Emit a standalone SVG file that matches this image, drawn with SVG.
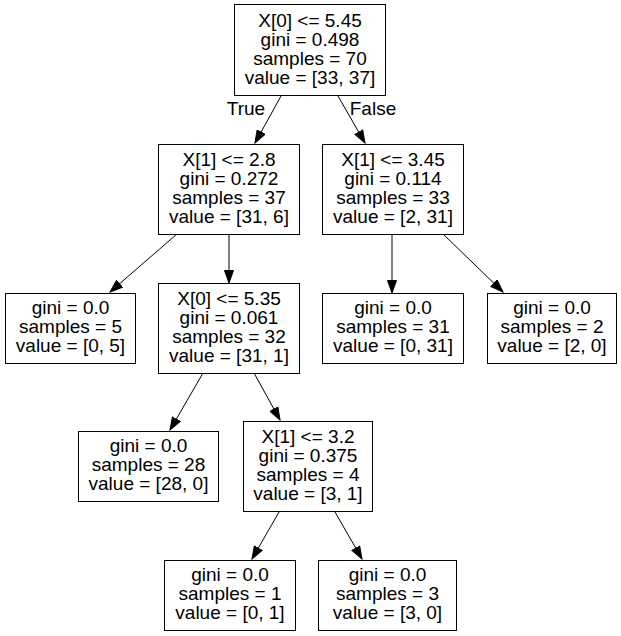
<svg xmlns="http://www.w3.org/2000/svg" width="621" height="636" viewBox="0 0 621 636">
<defs>
<marker id="ah" markerWidth="14" markerHeight="10" refX="13" refY="5" orient="auto" markerUnits="userSpaceOnUse">
<path d="M0.5,0.5 L13,5 L0.5,9.5 Z" fill="#000" stroke="#000" stroke-width="1"/>
</marker>
</defs>
<style>
rect{fill:#fff;stroke:#000;stroke-width:1}
text{font-family:"Liberation Sans",Arial,sans-serif;font-size:19px;fill:#000;text-anchor:middle}
.e{stroke:#000;stroke-width:1;fill:none;marker-end:url(#ah)}
</style>
<rect x="0" y="0" width="621" height="636" style="stroke:none"/>
<g id="edges">
<line class="e" x1="281" y1="96" x2="255" y2="143"/>
<line class="e" x1="338" y1="96" x2="365" y2="143"/>
<text x="246" y="115">True</text>
<text x="373" y="115">False</text>
<line class="e" x1="177" y1="234" x2="110" y2="292"/>
<line class="e" x1="229" y1="234" x2="229" y2="283"/>
<line class="e" x1="392" y1="234" x2="392" y2="293"/>
<line class="e" x1="443" y1="234" x2="503" y2="292"/>
<line class="e" x1="203" y1="373" x2="170" y2="430"/>
<line class="e" x1="254" y1="373" x2="280" y2="420"/>
<line class="e" x1="279" y1="512" x2="252" y2="559"/>
<line class="e" x1="335" y1="512" x2="362" y2="559"/>
</g>
<g id="n0">
<rect x="234.5" y="4.5" width="151" height="91"/>
<text x="310" y="27">X[0] &lt;= 5.45</text>
<text x="310" y="46">gini = 0.498</text>
<text x="310" y="65">samples = 70</text>
<text x="310" y="84">value = [33, 37]</text>
</g>
<g id="n1">
<rect x="158.5" y="144.5" width="141" height="90"/>
<text x="229" y="166">X[1] &lt;= 2.8</text>
<text x="229" y="185">gini = 0.272</text>
<text x="229" y="204">samples = 37</text>
<text x="229" y="223">value = [31, 6]</text>
</g>
<g id="n2">
<rect x="322.5" y="144.5" width="141" height="90"/>
<text x="393" y="166">X[1] &lt;= 3.45</text>
<text x="393" y="185">gini = 0.114</text>
<text x="393" y="204">samples = 33</text>
<text x="393" y="223">value = [2, 31]</text>
</g>
<g id="n3">
<rect x="5.5" y="293.5" width="130" height="70"/>
<text x="70.5" y="314">gini = 0.0</text>
<text x="70.5" y="333">samples = 5</text>
<text x="70.5" y="352">value = [0, 5]</text>
</g>
<g id="n4">
<rect x="158.5" y="283.5" width="141" height="90"/>
<text x="229" y="305">X[0] &lt;= 5.35</text>
<text x="229" y="324">gini = 0.061</text>
<text x="229" y="343">samples = 32</text>
<text x="229" y="362">value = [31, 1]</text>
</g>
<g id="n5">
<rect x="322.5" y="293.5" width="141" height="70"/>
<text x="393" y="314">gini = 0.0</text>
<text x="393" y="333">samples = 31</text>
<text x="393" y="352">value = [0, 31]</text>
</g>
<g id="n6">
<rect x="487.5" y="293.5" width="129" height="70"/>
<text x="552" y="314">gini = 0.0</text>
<text x="552" y="333">samples = 2</text>
<text x="552" y="352">value = [2, 0]</text>
</g>
<g id="n7">
<rect x="78.5" y="431.5" width="140" height="70"/>
<text x="148.5" y="452">gini = 0.0</text>
<text x="148.5" y="471">samples = 28</text>
<text x="148.5" y="490">value = [28, 0]</text>
</g>
<g id="n8">
<rect x="243.5" y="421.5" width="129" height="90"/>
<text x="308" y="443">X[1] &lt;= 3.2</text>
<text x="308" y="462">gini = 0.375</text>
<text x="308" y="481">samples = 4</text>
<text x="308" y="500">value = [3, 1]</text>
</g>
<g id="n9">
<rect x="164.5" y="560.5" width="131" height="70"/>
<text x="230" y="581">gini = 0.0</text>
<text x="230" y="600">samples = 1</text>
<text x="230" y="619">value = [0, 1]</text>
</g>
<g id="n10">
<rect x="318.5" y="560.5" width="138" height="70"/>
<text x="387.5" y="581">gini = 0.0</text>
<text x="387.5" y="600">samples = 3</text>
<text x="387.5" y="619">value = [3, 0]</text>
</g>
</svg>
